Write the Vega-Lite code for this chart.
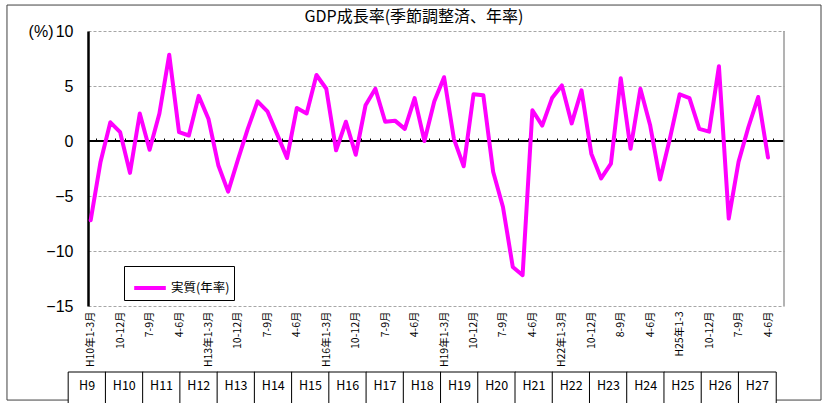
{
  "$schema": "https://vega.github.io/schema/vega-lite/v6.json",
  "width": 696,
  "height": 275,
  "autosize": "none",
  "padding": {"left": 88, "top": 31, "right": 41, "bottom": 97},
  "background": "white",
  "config": {"view": {"stroke": null}, "font": "Noto Sans CJK JP"},
  "title": {
    "text": "GDP成長率(季節調整済、年率)",
    "font": "Noto Sans CJK JP",
    "fontSize": 16,
    "fontWeight": "normal",
    "color": "black",
    "anchor": "middle",
    "dx": -22,
    "dy": 24,
    "offset": 4
  },
  "datasets": {
    "gdp": [
      {"q": 0, "rate": -7.2}, {"q": 1, "rate": -1.9}, {"q": 2, "rate": 1.7}, {"q": 3, "rate": 0.8},
      {"q": 4, "rate": -2.9}, {"q": 5, "rate": 2.5}, {"q": 6, "rate": -0.8}, {"q": 7, "rate": 2.5},
      {"q": 8, "rate": 7.85}, {"q": 9, "rate": 0.8}, {"q": 10, "rate": 0.5}, {"q": 11, "rate": 4.1},
      {"q": 12, "rate": 2.0}, {"q": 13, "rate": -2.2}, {"q": 14, "rate": -4.6}, {"q": 15, "rate": -1.7},
      {"q": 16, "rate": 1.1}, {"q": 17, "rate": 3.6}, {"q": 18, "rate": 2.7}, {"q": 19, "rate": 0.6},
      {"q": 20, "rate": -1.55}, {"q": 21, "rate": 3.0}, {"q": 22, "rate": 2.5}, {"q": 23, "rate": 6.0},
      {"q": 24, "rate": 4.75}, {"q": 25, "rate": -0.85}, {"q": 26, "rate": 1.75}, {"q": 27, "rate": -1.25},
      {"q": 28, "rate": 3.25}, {"q": 29, "rate": 4.75}, {"q": 30, "rate": 1.75}, {"q": 31, "rate": 1.85},
      {"q": 32, "rate": 1.1}, {"q": 33, "rate": 3.9}, {"q": 34, "rate": 0.0}, {"q": 35, "rate": 3.6},
      {"q": 36, "rate": 5.8}, {"q": 37, "rate": 0.2}, {"q": 38, "rate": -2.3}, {"q": 39, "rate": 4.25},
      {"q": 40, "rate": 4.15}, {"q": 41, "rate": -2.8}, {"q": 42, "rate": -6.0}, {"q": 43, "rate": -11.45},
      {"q": 44, "rate": -12.2}, {"q": 45, "rate": 2.8}, {"q": 46, "rate": 1.4}, {"q": 47, "rate": 3.9},
      {"q": 48, "rate": 5.05}, {"q": 49, "rate": 1.6}, {"q": 50, "rate": 4.6}, {"q": 51, "rate": -1.15},
      {"q": 52, "rate": -3.4}, {"q": 53, "rate": -2.05}, {"q": 54, "rate": 5.7}, {"q": 55, "rate": -0.7},
      {"q": 56, "rate": 4.75}, {"q": 57, "rate": 1.4}, {"q": 58, "rate": -3.5}, {"q": 59, "rate": 0.2},
      {"q": 60, "rate": 4.25}, {"q": 61, "rate": 3.9}, {"q": 62, "rate": 1.1}, {"q": 63, "rate": 0.85},
      {"q": 64, "rate": 6.8}, {"q": 65, "rate": -7.05}, {"q": 66, "rate": -1.9}, {"q": 67, "rate": 1.25},
      {"q": 68, "rate": 4.0}, {"q": 69, "rate": -1.5}
    ],
    "fiscal": [
      {"fy": "H9", "n": 9}, {"fy": "H10", "n": 10}, {"fy": "H11", "n": 11}, {"fy": "H12", "n": 12},
      {"fy": "H13", "n": 13}, {"fy": "H14", "n": 14}, {"fy": "H15", "n": 15}, {"fy": "H16", "n": 16},
      {"fy": "H17", "n": 17}, {"fy": "H18", "n": 18}, {"fy": "H19", "n": 19}, {"fy": "H20", "n": 20},
      {"fy": "H21", "n": 21}, {"fy": "H22", "n": 22}, {"fy": "H23", "n": 23}, {"fy": "H24", "n": 24},
      {"fy": "H25", "n": 25}, {"fy": "H26", "n": 26}, {"fy": "H27", "n": 27}
    ]
  },
  "resolve": {
    "scale": {"x": "independent"},
    "axis": {"x": "independent", "y": "independent"}
  },
  "layer": [
    {
      "description": "outer frame around the whole chart",
      "data": {"values": [{}]},
      "mark": {"type": "rect", "fill": "transparent", "stroke": "#404040", "strokeWidth": 1},
      "encoding": {
        "x": {"datum": -8.53, "type": "quantitative", "scale": {"domain": [-0.275, 70.63], "nice": false, "zero": false}, "axis": null},
        "x2": {"datum": 74.4},
        "y": {"datum": 12.36, "type": "quantitative", "scale": {"domain": [-15, 10], "nice": false, "zero": false}, "axis": null},
        "y2": {"datum": -23.55}
      }
    },
    {
      "description": "fiscal-year table under the chart",
      "data": {"name": "fiscal"},
      "layer": [
        {
          "mark": {"type": "bar", "orient": "vertical", "width": 37.8, "fill": "white", "stroke": "black", "strokeWidth": 1},
          "encoding": {
            "x": {"field": "n", "type": "quantitative", "scale": {"domain": [9.159, 27.582], "nice": false, "zero": false}, "axis": null},
            "y": {"datum": -21.0, "type": "quantitative", "scale": {"domain": [-15, 10], "nice": false, "zero": false}, "axis": null},
            "y2": {"datum": -24.6}
          }
        },
        {
          "mark": {"type": "text", "font": "Noto Sans CJK JP", "fontSize": 12.5, "color": "black", "baseline": "middle", "align": "center"},
          "encoding": {
            "x": {"field": "n", "type": "quantitative", "scale": {"domain": [9.159, 27.582], "nice": false, "zero": false}, "axis": null},
            "y": {"datum": -22.3, "type": "quantitative", "scale": {"domain": [-15, 10], "nice": false, "zero": false}, "axis": null},
            "text": {"field": "fy"}
          }
        }
      ]
    },
    {
      "description": "zero line with quarter tick marks",
      "data": {"values": [{}]},
      "mark": {"type": "rule", "color": "black", "strokeWidth": 2},
      "encoding": {
        "x": {
          "datum": -0.275,
          "type": "quantitative",
          "scale": {"domain": [-0.275, 70.63], "nice": false, "zero": false},
          "axis": {
            "orient": "top",
            "offset": -110,
            "values": [0.5, 1.5, 2.5, 3.5, 4.5, 5.5, 6.5, 7.5, 8.5, 9.5, 10.5, 11.5, 12.5, 13.5, 14.5, 15.5, 16.5, 17.5, 18.5, 19.5, 20.5, 21.5, 22.5, 23.5, 24.5, 25.5, 26.5, 27.5, 28.5, 29.5, 30.5, 31.5, 32.5, 33.5, 34.5, 35.5, 36.5, 37.5, 38.5, 39.5, 40.5, 41.5, 42.5, 43.5, 44.5, 45.5, 46.5, 47.5, 48.5, 49.5, 50.5, 51.5, 52.5, 53.5, 54.5, 55.5, 56.5, 57.5, 58.5, 59.5, 60.5, 61.5, 62.5, 63.5, 64.5, 65.5, 66.5, 67.5, 68.5, 69.5],
            "labels": false,
            "domain": false,
            "grid": false,
            "ticks": true,
            "tickSize": 3,
            "tickColor": "black",
            "tickWidth": 1,
            "title": null
          }
        },
        "x2": {"datum": 70.63},
        "y": {"datum": 0, "type": "quantitative", "scale": {"domain": [-15, 10], "nice": false, "zero": false}, "axis": null}
      }
    },
    {
      "description": "right edge of the plot area",
      "data": {"values": [{}]},
      "mark": {"type": "rule", "color": "#9A9A9A", "strokeWidth": 1.5},
      "encoding": {
        "x": {"datum": 70.63, "type": "quantitative", "scale": {"domain": [-0.275, 70.63], "nice": false, "zero": false}, "axis": null},
        "y": {"datum": -15, "type": "quantitative", "scale": {"domain": [-15, 10], "nice": false, "zero": false}, "axis": null},
        "y2": {"datum": 10}
      }
    },
    {
      "description": "quarterly real GDP growth, annualised",
      "data": {"name": "gdp"},
      "mark": {"type": "line", "strokeWidth": 4, "strokeJoin": "round", "strokeCap": "round"},
      "encoding": {
        "x": {
          "field": "q",
          "type": "quantitative",
          "scale": {"domain": [-0.275, 70.63], "nice": false, "zero": false},
          "axis": {
            "orient": "bottom",
            "values": [0, 3, 6, 9, 12, 15, 18, 21, 24, 27, 30, 33, 36, 39, 42, 45, 48, 51, 54, 57, 60, 63, 66, 69],
            "labelExpr": "['H10年1-3月','10-12月','7-9月','4-6月','H13年1-3月','10-12月','7-9月','4-6月','H16年1-3月','10-12月','7-9月','4-6月','H19年1-3月','10-12月','7-9月','4-6月','H22年1-3月','10-12月','8-9月','4-6月','H25年1-3','10-12月','7-9月','4-6月'][round(datum.value / 3)]",
            "labelAngle": 270,
            "labelAlign": "right",
            "labelBaseline": "middle",
            "labelFont": "Noto Sans CJK JP",
            "labelFontSize": 10.5,
            "labelColor": "black",
            "labelPadding": 5,
            "labelOverlap": false,
            "labelFlush": false,
            "domain": false,
            "ticks": false,
            "grid": false,
            "title": null
          }
        },
        "y": {
          "field": "rate",
          "type": "quantitative",
          "scale": {"domain": [-15, 10], "nice": false, "zero": false},
          "axis": {
            "values": [-15, -10, -5, 0, 5, 10],
            "grid": true,
            "gridColor": "#A6A6A6",
            "gridDash": [3, 2],
            "gridWidth": 1,
            "domain": true,
            "domainColor": "black",
            "domainWidth": 2.5,
            "ticks": false,
            "labelPadding": 15,
            "labelFont": "Liberation Sans",
            "labelFontSize": 16,
            "labelColor": "black",
            "labelFlush": false,
            "labelOverlap": false,
            "title": "(%)",
            "titleAngle": 0,
            "titleAlign": "right",
            "titleBaseline": "middle",
            "titleX": -35,
            "titleY": 0,
            "titleFont": "Liberation Sans",
            "titleFontSize": 16,
            "titleFontWeight": "normal",
            "titleColor": "black"
          }
        },
        "color": {
          "datum": "実質(年率)",
          "scale": {"range": ["#FF00FF"]},
          "legend": {
            "orient": "none",
            "legendX": 36,
            "legendY": 235,
            "title": null,
            "symbolType": "stroke",
            "symbolStrokeWidth": 4,
            "symbolSize": 1000,
            "symbolOffset": 4,
            "labelOffset": 3,
            "labelFont": "Noto Sans CJK JP",
            "labelFontSize": 12.5,
            "labelColor": "black",
            "strokeColor": "black",
            "fillColor": "white",
            "padding": 4
          }
        }
      }
    }
  ]
}
